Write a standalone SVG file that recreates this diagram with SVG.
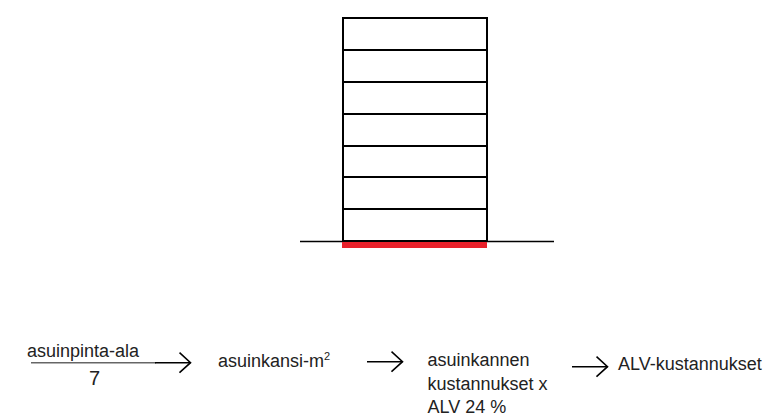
<svg xmlns="http://www.w3.org/2000/svg" width="766" height="417" viewBox="0 0 766 417">
  <style>
    .wall { fill: none; stroke: #000; stroke-width: 2; }
    .floor { stroke: #000; stroke-width: 2; }
    .ground { stroke: #000; stroke-width: 1.5; }
    .label { font-family: "Liberation Sans", Arial, sans-serif; font-size: 18px; fill: #222; }
    .conn { stroke: #000; stroke-width: 1.6; fill: none; }
  </style>
  <defs>
    <marker id="chevron" markerUnits="userSpaceOnUse" markerWidth="14" markerHeight="24" refX="12" refY="11" orient="auto">
      <path d="M1,1 L12,11 L1,21" fill="none" stroke="#000" stroke-width="1.6"/>
    </marker>
  </defs>

  <!-- seven-storey building on the ground line -->
  <g id="building">
    <rect class="wall" x="343" y="18" width="144" height="223"/>
    <line class="floor" x1="343" y1="50" x2="487" y2="50"/>
    <line class="floor" x1="343" y1="82" x2="487" y2="82"/>
    <line class="floor" x1="343" y1="114" x2="487" y2="114"/>
    <line class="floor" x1="343" y1="146" x2="487" y2="146"/>
    <line class="floor" x1="343" y1="177" x2="487" y2="177"/>
    <line class="floor" x1="343" y1="209" x2="487" y2="209"/>
    <line class="ground" x1="300" y1="241.5" x2="554" y2="241.5"/>
    <rect id="footprint" x="342" y="242" width="145" height="6" fill="#e8202a"/>
  </g>

  <!-- calculation chain -->
  <g id="fraction">
    <text class="label" x="27" y="357">asuinpinta-ala</text>
    <line x1="31" y1="362.7" x2="156" y2="362.7" stroke="#666" stroke-width="1.6"/>
    <text class="label" x="94.5" y="385" text-anchor="middle" style="font-size:20px">7</text>
  </g>
  <g id="deck-area">
    <text class="label" x="218" y="367">asuinkansi-m<tspan dy="-7" style="font-size:11px">2</tspan></text>
  </g>
  <g id="deck-costs">
    <text class="label" x="427.5" y="366">asuinkannen</text>
    <text class="label" x="427.5" y="390">kustannukset x</text>
    <text class="label" x="427.5" y="413">ALV 24 %</text>
  </g>
  <g id="vat-costs">
    <text class="label" x="618" y="370">ALV-kustannukset</text>
  </g>

  <g id="connectors">
    <line class="conn" x1="155" y1="362.7" x2="190.5" y2="362.7" marker-end="url(#chevron)"/>
    <line class="conn" x1="367" y1="361.7" x2="402.5" y2="361.7" marker-end="url(#chevron)"/>
    <line class="conn" x1="572" y1="366.7" x2="607.5" y2="366.7" marker-end="url(#chevron)"/>
  </g>
</svg>
